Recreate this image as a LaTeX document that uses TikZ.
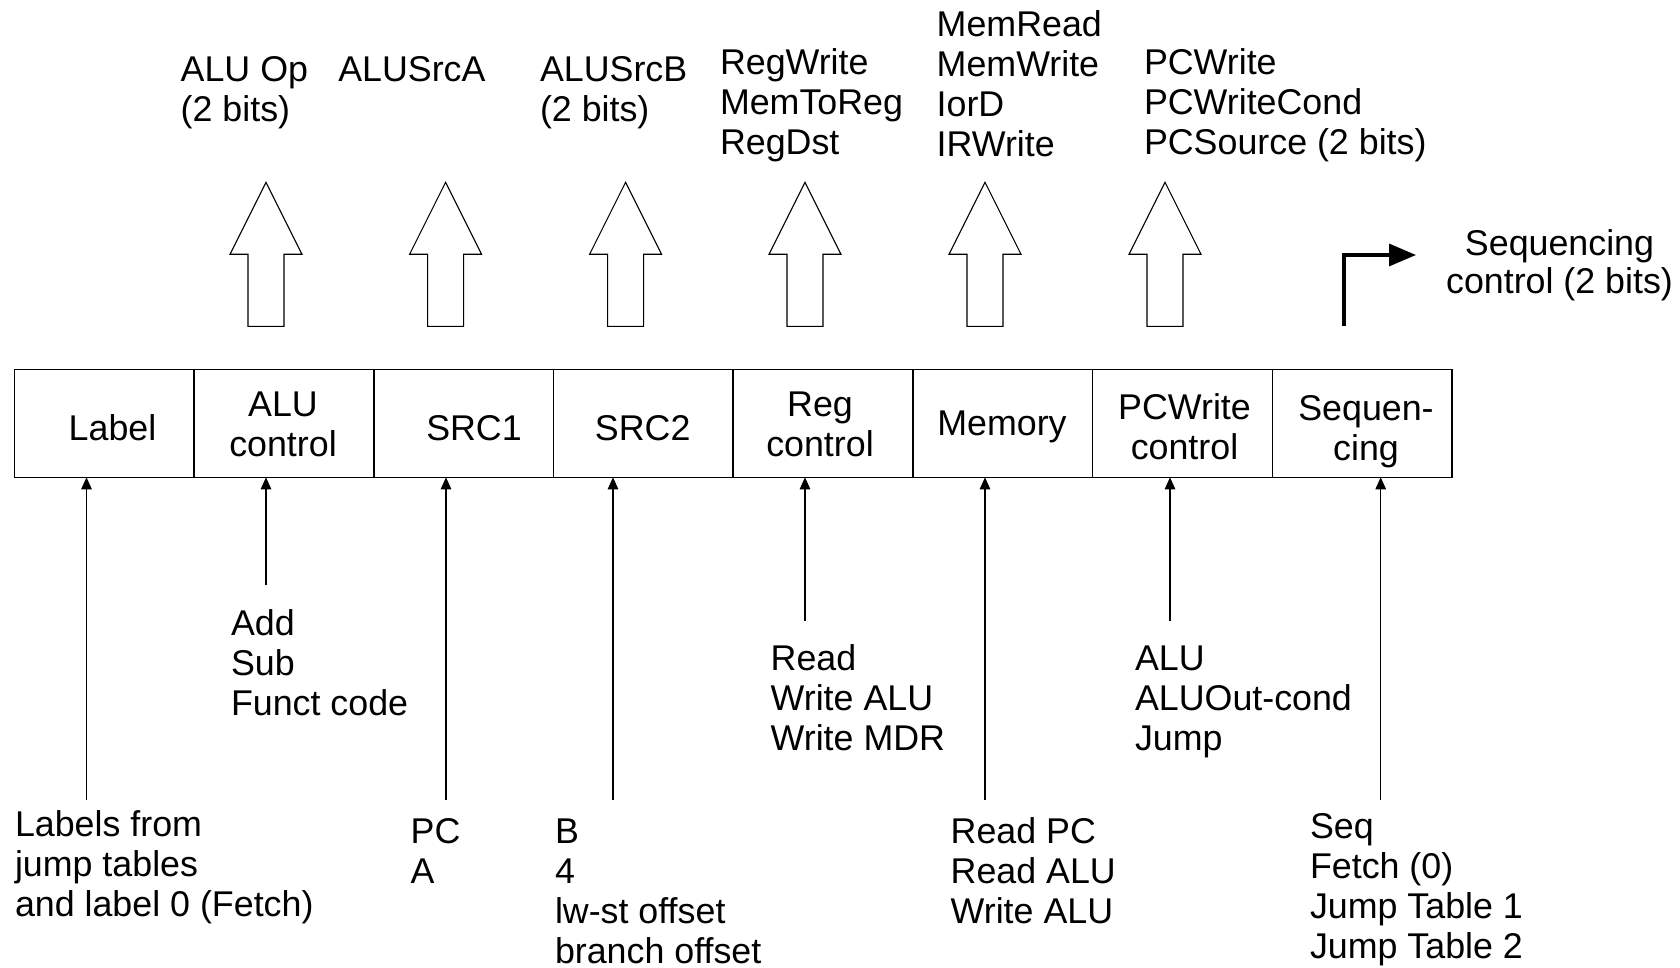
\documentclass[tikz,border=0pt]{standalone}
\usepackage{fontspec}
\setmainfont{Liberation Sans}
\usetikzlibrary{arrows.meta}
\newcommand{\MLl}[1]{\begin{tabular}[t]{@{}l@{}}#1\end{tabular}}
\newcommand{\MLc}[1]{\begin{tabular}[t]{@{}c@{}}#1\end{tabular}}
\begin{document}
\begin{tikzpicture}[x=1pt,y=-1pt,
  txt/.style={inner sep=0pt, outer sep=0pt, font=\fontsize{35.8}{40}\selectfont},
  lt/.style={txt, anchor=base west},
  ct/.style={txt, anchor=base},
  cell/.style={draw, line width=1.6pt, minimum width=179.69pt, minimum height=108pt, inner sep=0pt, outer sep=0pt},
  fat/.style={draw, line width=1.1pt, fill=white, line join=miter},
  thinarr/.style={line width=1.2pt, -{Triangle[length=12pt,width=10.5pt]}},
  seqarr/.style={line width=3.4pt, line join=miter, -{Triangle[length=27pt,width=22pt]}},
  fatarrow/.pic={\draw[fat] (0,0) -- (36,72) -- (18,72) -- (18,144) -- (-18,144) -- (-18,72) -- (-36,72) -- cycle;}]
\fill[white] (0,0) rectangle (1680,968);
\useasboundingbox (0,0) rectangle (1680,968);

% cells
\node[cell] (c1) at (104.35,423.3) {};
\node[cell] (c2) at (284.03,423.3) {};
\node[cell] (c3) at (463.72,423.3) {};
\node[cell] (c4) at (643.41,423.3) {};
\node[cell] (c5) at (823.10,423.3) {};
\node[cell] (c6) at (1002.79,423.3) {};
\node[cell] (c7) at (1182.47,423.3) {};
\node[cell] (c8) at (1362.16,423.3) {};

% cell texts
\node[ct] (t1) at (112.5,440) {Label};
\node[ct] (t2) at (283,416.7) {\MLc{ALU\\control}};
\node[ct] (t3) at (474,440) {SRC1};
\node[ct] (t4) at (642.7,440) {SRC2};
\node[ct] (t5) at (820,416.7) {\MLc{Reg\\control}};
\node[ct] (t6) at (1002,435) {Memory};
\node[ct] (t7) at (1184.5,419) {\MLc{PCWrite\\control}};
\node[ct] (t8) at (1366,420) {\MLc{Sequen-\\cing}};

% hollow output arrows
\pic at (266,182.3) {fatarrow};
\pic at (445.6,182.3) {fatarrow};
\pic at (625.6,182.3) {fatarrow};
\pic at (805,182.3) {fatarrow};
\pic at (985,182.3) {fatarrow};
\pic at (1165,182.3) {fatarrow};

% output texts
\node[lt] (o1) at (180.7,81.7) {\MLl{ALU Op\\(2 bits)}};
\node[lt] (o2) at (338.3,81.7) {ALUSrcA};
\node[lt] (o3) at (540,81.7) {\MLl{ALUSrcB\\(2 bits)}};
\node[lt] (o4) at (720,75) {\MLl{RegWrite\\MemToReg\\RegDst}};
\node[lt] (o5) at (936.7,36.7) {\MLl{MemRead\\MemWrite\\IorD\\IRWrite}};
\node[lt] (o6) at (1144,75) {\MLl{PCWrite\\PCWriteCond\\PCSource (2 bits)}};
\node[ct] (o7) at (1559.5,255) {\MLc{Sequencing\\[-1.7pt]control (2 bits)}};

% sequencing control arrow
\coordinate (sq0) at (1344,326);
\coordinate (sq1) at (1416,255);
\draw[seqarr] (sq0) |- (sq1);

% input texts
\node[lt] (i1) at (15,836.7) {\MLl{Labels from\\jump tables\\and label 0 (Fetch)}};
\node[lt] (i2) at (231,635.7) {\MLl{Add\\Sub\\Funct code}};
\node[lt] (i3) at (410.7,843) {\MLl{PC\\A}};
\node[lt] (i4) at (555,843) {\MLl{B\\4\\lw-st offset\\branch offset}};
\node[lt] (i5) at (770.7,670) {\MLl{Read\\Write ALU\\Write MDR}};
\node[lt] (i6) at (950.7,843) {\MLl{Read PC\\Read ALU\\Write ALU}};
\node[lt] (i7) at (1135,670) {\MLl{ALU\\ALUOut-cond\\Jump}};
\node[lt] (i8) at (1310,838) {\MLl{Seq\\Fetch (0)\\Jump Table 1\\Jump Table 2}};

% input arrow start points
\coordinate (a1) at (86.5,800);
\coordinate (a2) at (266,585);
\coordinate (a3) at (446,800);
\coordinate (a4) at (613,800);
\coordinate (a5) at (805,621);
\coordinate (a6) at (985,800);
\coordinate (a7) at (1170,621);
\coordinate (a8) at (1380.7,800);

\draw[thinarr] (a1) -- (a1 |- c1.south);
\draw[thinarr] (a2) -- (a2 |- c2.south);
\draw[thinarr] (a3) -- (a3 |- c3.south);
\draw[thinarr] (a4) -- (a4 |- c4.south);
\draw[thinarr] (a5) -- (a5 |- c5.south);
\draw[thinarr] (a6) -- (a6 |- c6.south);
\draw[thinarr] (a7) -- (a7 |- c7.south);
\draw[thinarr] (a8) -- (a8 |- c8.south);
\end{tikzpicture}
\end{document}
